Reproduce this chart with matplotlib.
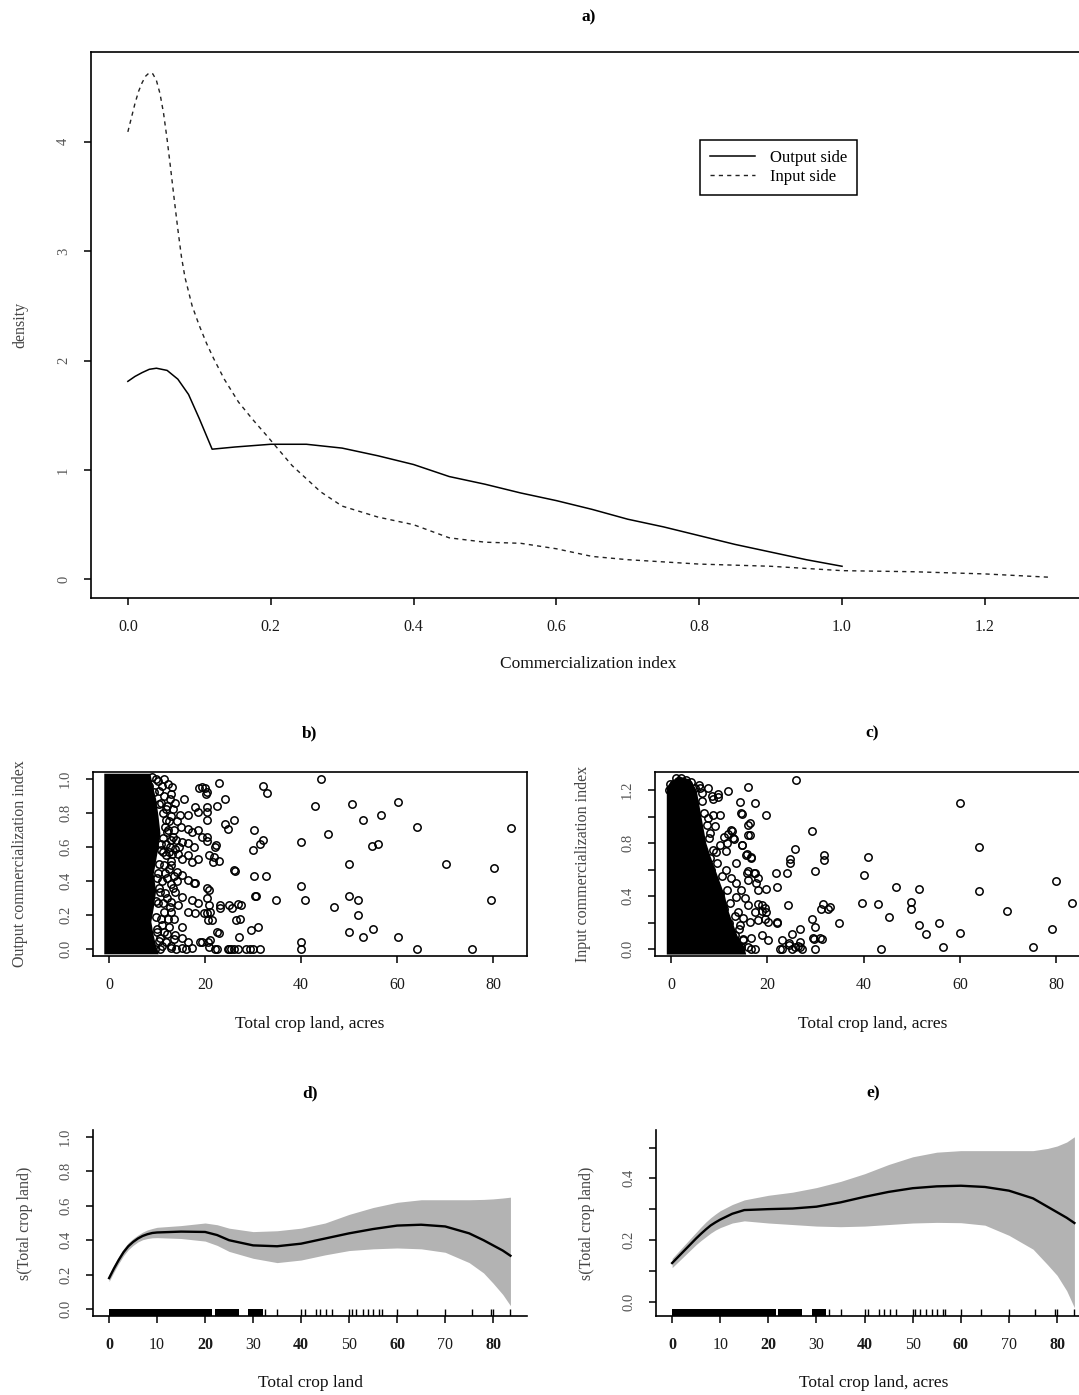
import matplotlib
matplotlib.use("Agg")
import matplotlib.pyplot as plt

plt.rcParams['font.family'] = ['Liberation Serif', 'DejaVu Serif']

# ---- panel a: densities of the commercialization index ----
out_x = [0, 0.01, 0.02, 0.03, 0.04, 0.055, 0.07, 0.085, 0.10, 0.118, 0.15, 0.20, 0.25, 0.30,
         0.35, 0.40, 0.45, 0.50, 0.55, 0.60, 0.65, 0.70, 0.75, 0.80, 0.85, 0.90, 0.95, 1.00]
out_y = [1.81, 1.855, 1.89, 1.92, 1.93, 1.91, 1.83, 1.69, 1.47, 1.19, 1.21, 1.235, 1.235, 1.20,
         1.13, 1.05, 0.94, 0.87, 0.79, 0.72, 0.64, 0.55, 0.48, 0.40, 0.32, 0.25, 0.18, 0.12]
inp_x = [0, 0.005, 0.01, 0.015, 0.02, 0.025, 0.03, 0.035, 0.04, 0.045, 0.05, 0.055, 0.06,
         0.065, 0.07, 0.075, 0.08, 0.09, 0.10, 0.11, 0.12, 0.135, 0.155, 0.175, 0.195, 0.23,
         0.27, 0.30, 0.35, 0.40, 0.45, 0.50, 0.55, 0.60, 0.65, 0.70, 0.80, 0.90, 1.00, 1.10,
         1.20, 1.29]
inp_y = [4.09, 4.22, 4.35, 4.46, 4.54, 4.60, 4.63, 4.62, 4.56, 4.44, 4.26, 4.02, 3.75,
         3.47, 3.20, 2.95, 2.76, 2.50, 2.32, 2.16, 2.02, 1.83, 1.62, 1.46, 1.31, 1.04,
         0.80, 0.67, 0.57, 0.50, 0.38, 0.34, 0.33, 0.28, 0.21, 0.18, 0.14, 0.12, 0.08, 0.07,
         0.05, 0.02]

# ---- panel b: output index vs crop land ----
b_pts = [(44.1, 1.0), (22.9, 0.977), (32.0, 0.958), (32.9, 0.918), (24.1, 0.884), (60.1, 0.861),
         (50.5, 0.851), (42.8, 0.84), (22.4, 0.84), (56.7, 0.79), (52.9, 0.757), (26.1, 0.76),
         (24.1, 0.737), (24.7, 0.708), (64.2, 0.72), (83.8, 0.71), (30.1, 0.70), (45.6, 0.674),
         (32.1, 0.643), (31.5, 0.62), (40, 0.63), (22.1, 0.60), (29.9, 0.58), (54.8, 0.606),
         (56, 0.617), (50, 0.50), (70.1, 0.50), (80.2, 0.475), (22.9, 0.515), (26, 0.466),
         (26.2, 0.46), (30.1, 0.427), (32.7, 0.427), (40, 0.37), (30.3, 0.313), (30.6, 0.313),
         (50, 0.313), (34.8, 0.288), (40.9, 0.288), (51.8, 0.288), (79.5, 0.288), (46.9, 0.25),
         (23, 0.26), (25, 0.26), (26.8, 0.266), (26.5, 0.17), (51.8, 0.20), (31.1, 0.13),
         (29.6, 0.11), (22.4, 0.10), (50, 0.10), (54.9, 0.12), (27, 0.07), (52.9, 0.07),
         (60.1, 0.07), (40, 0.04), (40, 0.0), (64.2, 0), (75.5, 0), (22.1, 0), (25, 0),
         (25.4, 0), (26, 0), (28.6, 0), (30, 0), (31.5, 0),
         (19.3, 0.951), (20.4, 0.922), (20.0, 0.946), (18.7, 0.946), (20.1, 0.91), (15.6, 0.879),
         (13.3, 0.82), (14.7, 0.785), (16.5, 0.785), (17.9, 0.834), (18.6, 0.805), (20.4, 0.834),
         (20.4, 0.805), (20.4, 0.756), (14.9, 0.717), (16.5, 0.708), (17.2, 0.688), (18.6, 0.698),
         (19.3, 0.658), (20.4, 0.658), (20.4, 0.633), (15.2, 0.63), (16.5, 0.626), (17.6, 0.60),
         (22.2, 0.61), (13, 0.639), (13.7, 0.59), (14.4, 0.561), (15.1, 0.532), (16.5, 0.551),
         (17.2, 0.512), (18.6, 0.532), (20.8, 0.551), (21.9, 0.541), (21.6, 0.512), (12.9, 0.493),
         (14.1, 0.454), (15.1, 0.435), (16.5, 0.405), (17.6, 0.386), (20.8, 0.347), (20.4, 0.302),
         (13.8, 0.337), (15.1, 0.308), (13, 0.278), (14.4, 0.259), (17.2, 0.288), (18.6, 0.269),
         (20.8, 0.259), (18, 0.39), (20.3, 0.36), (16.5, 0.22), (17.9, 0.21), (19.7, 0.21),
         (21.1, 0.22), (21.5, 0.171), (20.3, 0.21), (20.7, 0.17), (15.1, 0.132), (13.8, 0.084),
         (15.1, 0.064), (16.5, 0.044), (19.3, 0.044), (21.1, 0.054), (20.8, 0.015), (22.5, 0.0),
         (24.8, 0), (26.9, 0), (29.4, 0), (11.1, 0.02), (12.8, 0.005), (15.1, 0.005), (17.2, 0.005),
         (18.9, 0.04), (20.7, 0.04), (23.2, 0.243), (25.7, 0.243), (27.5, 0.259), (27.2, 0.177),
         (22.8, 0.094), (11.1, 0.96), (11.4, 0.90), (11.8, 0.82), (11.8, 0.756), (12.1, 0.688),
         (12.5, 0.571), (11.4, 0.493), (12.1, 0.415), (10.7, 0.337), (11.4, 0.22), (11.1, 0.142),
         (10.7, 0.064), (9, 1.01), (10.1, 0.99), (8.4, 0.96), (9.4, 0.92), (10.5, 0.85),
         (12.5, 0.75), (10.8, 0.62), (13.5, 0.70), (10.2, 0.45), (12.8, 0.38), (9.8, 0.28),
         (12.2, 0.18), (10, 0.10), (13, 0.02), (9.5, 0.0), (11.8, 0.55), (12.0, 0.30), (13.2, 0.56),
         (9.8, 1.0), (10.3, 0.93), (10.8, 0.86), (11.2, 0.80), (11.6, 0.72), (11.3, 0.65),
         (10.8, 0.58), (10.4, 0.50), (9.9, 0.42), (10.4, 0.36), (10.2, 0.27), (9.7, 0.19),
         (9.9, 0.12), (10.3, 0.05), (10.7, 0.0), (12.6, 0.88), (13.9, 0.64), (12.4, 0.47),
         (13.6, 0.18), (12.0, 0.09), (14.2, 0.40), (13.1, 0.95),
         (11.5, 1.0), (12.2, 0.97), (12.8, 0.91), (13.8, 0.86), (12.0, 0.84), (13.0, 0.78),
         (14.2, 0.75), (12.3, 0.70), (13.3, 0.66), (11.8, 0.62), (12.6, 0.60), (14.5, 0.60),
         (11.2, 0.57), (13.0, 0.52), (11.6, 0.45), (13.5, 0.43), (11.1, 0.40), (13.3, 0.36),
         (11.7, 0.33), (12.6, 0.25), (11.2, 0.27), (13.0, 0.22), (10.8, 0.18), (12.5, 0.13),
         (11.5, 0.10), (13.5, 0.06), (11.8, 0.04), (14.0, 0.0), (16.0, 0.0)]
# outline of the solid mass of overlapping points near zero
b_core_x = [-1.0, -1.0, 8.6, 9.2, 9.8, 10.3, 10.7, 10.3, 9.8, 9.3, 9.8, 9.3, 8.8, 9.3, 9.8, 10.3]
b_core_y = [-0.03, 1.03, 1.03, 0.95, 0.88, 0.78, 0.68, 0.60, 0.52, 0.44, 0.34, 0.24, 0.16, 0.08, 0.02, -0.03]

# ---- panel c: input index vs crop land ----
c_pts = [(25.9, 1.28), (60, 1.10), (15.9, 1.223), (11.8, 1.193), (9.75, 1.168), (8.5, 1.155),
         (14.3, 1.113), (17.4, 1.105), (14.6, 1.03), (19.8, 1.01), (16.3, 0.949), (29.2, 0.891),
         (12.6, 0.891), (11.8, 0.866), (13.1, 0.833), (16.3, 0.859), (25.8, 0.753), (63.9, 0.771),
         (14.8, 0.783), (15.6, 0.708), (16.6, 0.698), (24.8, 0.683), (24.8, 0.653), (31.7, 0.708),
         (31.7, 0.673), (40.9, 0.695), (29.8, 0.59), (15.9, 0.59), (17.3, 0.578), (18, 0.54),
         (21.7, 0.573), (24.0, 0.573), (40, 0.557), (19.8, 0.452), (21.9, 0.472), (46.8, 0.472),
         (51.5, 0.457), (63.9, 0.44), (80, 0.516), (83.4, 0.351), (39.7, 0.351), (43, 0.339),
         (49.9, 0.356), (49.9, 0.301), (31.5, 0.339), (32.6, 0.306), (31.2, 0.306), (33, 0.32),
         (24.2, 0.334), (69.8, 0.289), (45.2, 0.244), (34.8, 0.2), (55.7, 0.2), (51.5, 0.183),
         (52.9, 0.113), (60, 0.126), (79.2, 0.151), (75.2, 0.02), (56.6, 0.02), (43.7, 0),
         (29.2, 0.231), (29.8, 0.168), (29.6, 0.08), (29.8, 0), (31.4, 0.08), (26.8, 0.151),
         (26.4, 0.025), (22.6, 0), (24.4, 0.05), (25.1, 0.113), (21.9, 0.2), (19.5, 0.226),
         (18.8, 0.289), (18.1, 0.339), (19.5, 0.314),
         (2.1, 1.288), (4.2, 1.262), (5.9, 1.217), (7.7, 1.217), (9.7, 1.15), (8.7, 1.137),
         (8.7, 1.01), (10.1, 1.01), (9.1, 0.931), (7.7, 0.987), (14.8, 1.023), (16.0, 0.94),
         (16.0, 0.86), (14.8, 0.785), (12.5, 0.899), (11.0, 0.849), (12.9, 0.836), (11.7, 0.8),
         (8.0, 0.874), (10.1, 0.785), (11.5, 0.74), (9.4, 0.73), (8.0, 0.69), (15.7, 0.715),
         (16.7, 0.69), (13.4, 0.648), (11.5, 0.597), (12.5, 0.535), (13.4, 0.497), (14.6, 0.447),
         (13.4, 0.396), (15.7, 0.573), (17.4, 0.573), (16.0, 0.522), (17.7, 0.497), (18.1, 0.447),
         (15.3, 0.383), (16.0, 0.333), (17.4, 0.283), (18.8, 0.333), (19.8, 0.283), (13.9, 0.283),
         (15.0, 0.233), (14.3, 0.183), (16.4, 0.208), (18.1, 0.221), (20.2, 0.208), (21.9, 0.208),
         (13.2, 0.108), (15.0, 0.07), (16.7, 0.083), (18.8, 0.108), (20.2, 0.07), (23.0, 0.07),
         (24.4, 0.032), (25.8, 0.02), (26.8, 0.057), (26.8, 0.02), (23, 0.005), (25.1, 0.005),
         (27.2, 0.005), (29.4, 0.083), (31.0, 0.083), (11.1, 0.057), (9.7, 0.005), (12.5, 0.005),
         (14.6, 0.02), (16.7, 0.005), (0.5, 1.25), (1.5, 1.27), (3, 1.28), (-0.5, 1.2),
         (5, 1.22), (6.5, 1.18), (3.5, 1.25),
         (5.8, 1.24), (6.4, 1.12), (6.9, 1.03), (7.4, 0.94), (7.9, 0.84), (8.7, 0.75),
         (9.6, 0.65), (10.6, 0.55), (11.6, 0.45), (12.3, 0.35), (13.2, 0.25), (14.2, 0.15),
         (15.0, 0.08), (16.0, 0.02), (17.5, 0.0), (-0.3, 1.25), (1.0, 1.29), (10.2, 0.42),
         (11.0, 0.30), (12.0, 0.20), (9.0, 0.52), (8.2, 0.60)]
c_core_x = [-0.9, -0.9, 0.0, 2.0, 4.0, 5.3, 5.8, 6.3, 6.8, 7.3, 8.2, 9.2, 10.2, 11.2, 11.8, 12.8, 13.8, 15.2, 15.6]
c_core_y = [-0.04, 1.22, 1.27, 1.30, 1.28, 1.20, 1.10, 1.00, 0.90, 0.80, 0.70, 0.60, 0.50, 0.40, 0.30, 0.20, 0.10, 0.02, -0.04]

# ---- panels d, e: smooth terms of crop land ----
d_x = [0, 1, 2, 3, 4, 5, 6, 7, 8, 9, 10, 15, 20, 22.5, 25, 30, 35, 40, 45, 50, 55, 60, 65,
       70, 75, 78, 80, 82, 83.6]
d_fit = [0.18, 0.235, 0.285, 0.33, 0.365, 0.39, 0.41, 0.425, 0.435, 0.442, 0.445, 0.45, 0.448,
         0.43, 0.40, 0.37, 0.365, 0.38, 0.41, 0.44, 0.465, 0.485, 0.49, 0.48, 0.44, 0.40,
         0.37, 0.34, 0.31]
d_up = [0.20, 0.255, 0.305, 0.35, 0.385, 0.41, 0.43, 0.447, 0.46, 0.468, 0.475, 0.485, 0.50,
        0.49, 0.47, 0.45, 0.455, 0.47, 0.50, 0.55, 0.59, 0.62, 0.635, 0.635, 0.635, 0.637,
        0.64, 0.645, 0.65]
d_lo = [0.16, 0.215, 0.265, 0.31, 0.345, 0.37, 0.39, 0.403, 0.41, 0.414, 0.415, 0.41, 0.395,
        0.37, 0.335, 0.295, 0.27, 0.285, 0.315, 0.34, 0.35, 0.355, 0.35, 0.33, 0.27, 0.21,
        0.15, 0.085, 0.02]
e_x = [0, 1, 2, 3, 4, 5, 6, 7, 8, 9, 10, 12.5, 15, 20, 25, 30, 35, 40, 45, 50, 55, 60, 65,
       70, 75, 78, 80, 82, 83.6]
e_fit = [0.125, 0.141, 0.157, 0.173, 0.189, 0.205, 0.22, 0.234, 0.247, 0.257, 0.266, 0.285,
         0.297, 0.30, 0.302, 0.308, 0.322, 0.34, 0.356, 0.368, 0.374, 0.376, 0.372, 0.36,
         0.335, 0.308, 0.29, 0.272, 0.255]
e_up = [0.14, 0.157, 0.174, 0.191, 0.208, 0.225, 0.242, 0.258, 0.272, 0.284, 0.295, 0.315,
        0.33, 0.345, 0.355, 0.37, 0.39, 0.415, 0.445, 0.47, 0.485, 0.49, 0.49, 0.49, 0.49,
        0.497, 0.505, 0.518, 0.535]
e_lo = [0.11, 0.125, 0.14, 0.155, 0.17, 0.185, 0.198, 0.21, 0.222, 0.232, 0.24, 0.255, 0.262,
        0.255, 0.25, 0.245, 0.243, 0.245, 0.25, 0.255, 0.257, 0.256, 0.248, 0.215, 0.17,
        0.12, 0.085, 0.035, -0.02]
rug_spans = [(0, 21.5), (22, 27), (29, 32)]
rug_ticks = [32.5, 35, 40, 40.8, 43, 44, 45.2, 46.5, 50, 50.5, 51.5, 52.8, 54, 55, 56.2,
             56.8, 60, 64.2, 70, 75.5, 79.5, 80, 83.6]

W, H = 1079, 1395
fig = plt.figure(figsize=(W / 100, H / 100), dpi=100)


def box(l, t, r, b):
    # pixel box -> figure fraction axes
    return fig.add_axes([l / W, 1 - b / H, (r - l) / W, (b - t) / H])


def style(ax, lw=1.2):
    for s in ax.spines.values():
        s.set_linewidth(lw)
    ax.tick_params(direction='out', length=5, width=1.1, pad=10)
    ax.tick_params(axis='x', labelcolor='#1a1a1a', labelsize=11.5)
    ax.tick_params(axis='y', labelcolor='#555555', labelsize=10.5)


def yticks(ax, ticks, labels):
    ax.set_yticks(ticks, labels, rotation=90, va='center')


def texts(ax, title, xl, yl, ty, xy, yx):
    ax.text(0.5, ty, title, transform=ax.transAxes, ha='center', va='center',
            fontsize=12.5, fontweight='bold')
    ax.text(0.5, xy, xl, transform=ax.transAxes, ha='center', va='center', fontsize=12.5,
            color='#111111')
    ax.text(yx, 0.5, yl, transform=ax.transAxes, ha='center', va='center', fontsize=11.5,
            rotation=90, color='#444444')


# a)
ax = box(91, 52, 1086, 598)
ax.plot(out_x, out_y, color='black', lw=1.1, label='Output side')
ax.plot(inp_x, inp_y, color='#222222', lw=1.0, linestyle=(0, (3, 3)), label='Input side')
ax.set_xlim(-0.0516, 1.3416)
ax.set_ylim(-0.17, 4.82)
ax.set_xticks([0, 0.2, 0.4, 0.6, 0.8, 1.0, 1.2], ['0.0', '0.2', '0.4', '0.6', '0.8', '1.0', '1.2'])
yticks(ax, [0, 1, 2, 3, 4], ['0', '1', '2', '3', '4'])
style(ax)
leg = ax.legend(loc='upper left', bbox_to_anchor=(0.612, 0.839), fancybox=False,
                edgecolor='black', framealpha=1, handlelength=2.7, fontsize=12,
                borderpad=0.6, labelspacing=0.2, handletextpad=0.9, borderaxespad=0)
leg.get_frame().set_linewidth(1.1)
texts(ax, 'a)', 'Commercialization index', 'density', 1 + 35 / 546, -66 / 546, -71 / 995)

# b)
ax = box(93, 772, 527, 956)
ax.fill(b_core_x, b_core_y, color='black', lw=0, zorder=1)
ax.plot([p[0] for p in b_pts], [p[1] for p in b_pts], 'o', mfc='none', mec='black',
        ms=5.3, mew=1.1, zorder=2)
ax.set_xlim(-3.35, 87.05)
ax.set_ylim(-0.04, 1.04)
ax.set_xticks([0, 20, 40, 60, 80])
yticks(ax, [0, 0.2, 0.4, 0.6, 0.8, 1.0], ['0.0', '0.2', '0.4', '0.6', '0.8', '1.0'])
style(ax)
texts(ax, 'b)', 'Total crop land, acres', 'Output commercialization index',
      1 + 39 / 184, -68 / 184, -73 / 434)

# c)
ax = box(655, 772, 1090, 956)
ax.fill(c_core_x, c_core_y, color='black', lw=0, zorder=1)
ax.plot([p[0] for p in c_pts], [p[1] for p in c_pts], 'o', mfc='none', mec='black',
        ms=5.3, mew=1.1, zorder=2)
ax.set_xlim(-3.35, 87.05)
ax.set_ylim(-0.051, 1.337)
ax.set_xticks([0, 20, 40, 60, 80])
yticks(ax, [0, 0.2, 0.4, 0.6, 0.8, 1.0, 1.2], ['0.0', '', '0.4', '', '0.8', '', '1.2'])
style(ax)
texts(ax, 'c)', 'Total crop land, acres', 'Input commercialization index',
      1 + 39 / 184, -68 / 184, -72 / 435)


def smooth_panel(ax, xs, fit, up, lo):
    ax.fill_between(xs, lo, up, color='#b3b3b3', lw=0, zorder=1)
    ax.plot(xs, fit, color='black', lw=1.7, zorder=2)
    tr = ax.get_xaxis_transform()
    for a0, a1 in rug_spans:
        ax.axvspan(a0, a1, ymin=0, ymax=0.035, color='black', lw=0, zorder=3)
    ax.vlines(rug_ticks, 0, 0.035, transform=tr, color='black', lw=1.0, zorder=3)
    ax.spines['top'].set_visible(False)
    ax.spines['right'].set_visible(False)
    ax.set_xlim(-3.35, 87.05)
    ax.set_xticks(range(0, 90, 10))
    style(ax)
    for i, lbl in enumerate(ax.get_xticklabels()):
        if i % 2 == 0:
            lbl.set_fontweight('bold')


# d)
ax = box(93, 1130, 527, 1316)
smooth_panel(ax, d_x, d_fit, d_up, d_lo)
ax.set_ylim(-0.04, 1.04)
yticks(ax, [0, 0.2, 0.4, 0.6, 0.8, 1.0], ['0.0', '0.2', '0.4', '0.6', '0.8', '1.0'])
texts(ax, 'd)', 'Total crop land', 's(Total crop land)', 1 + 37 / 186, -67 / 186, -68 / 434)

# e)
ax = box(656, 1130, 1091, 1316)
smooth_panel(ax, e_x, e_fit, e_up, e_lo)
ax.set_ylim(-0.047, 0.557)
yticks(ax, [0, 0.1, 0.2, 0.3, 0.4, 0.5], ['0.0', '', '0.2', '', '0.4', ''])
texts(ax, 'e)', 'Total crop land, acres', 's(Total crop land)', 1 + 37 / 186, -67 / 186, -69 / 435)

fig.savefig('out.png', dpi=100)
